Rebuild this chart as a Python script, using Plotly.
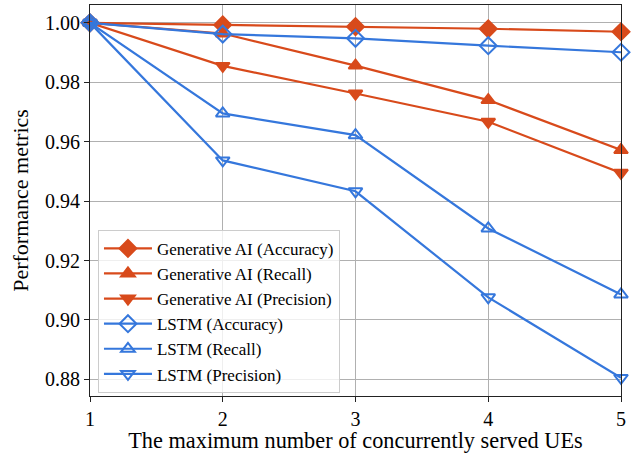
import plotly.graph_objects as go

x_vals = [1, 2, 3, 4, 5]
gen_accuracy = [1.0, 0.9993, 0.9987, 0.9980, 0.9970]
gen_recall = [1.0, 0.9964, 0.9856, 0.9740, 0.9572]
gen_precision = [1.0, 0.9855, 0.9762, 0.9667, 0.9495]
lstm_accuracy = [1.0, 0.9962, 0.9948, 0.9923, 0.9901]
lstm_recall = [1.0, 0.9695, 0.9622, 0.9308, 0.9086]
lstm_precision = [1.0, 0.9537, 0.9433, 0.9076, 0.8805]

x_ticks = [1, 2, 3, 4, 5]
y_ticks = [0.88, 0.90, 0.92, 0.94, 0.96, 0.98, 1.00]

ORANGE = "#D84A1B"
BLUE = "#3577DC"
FONT = "Liberation Serif"

series = [
    ("Generative AI (Accuracy)", gen_accuracy, ORANGE, "diamond", True),
    ("Generative AI (Recall)", gen_recall, ORANGE, "triangle-up", True),
    ("Generative AI (Precision)", gen_precision, ORANGE, "triangle-down", True),
    ("LSTM (Accuracy)", lstm_accuracy, BLUE, "diamond-open", False),
    ("LSTM (Recall)", lstm_recall, BLUE, "triangle-up-open", False),
    ("LSTM (Precision)", lstm_precision, BLUE, "triangle-down-open", False),
]

fig = go.Figure()
for name, vals, color, sym, filled in series:
    fig.add_trace(go.Scatter(
        x=x_vals, y=vals, name=name, mode="lines+markers",
        line=dict(color=color, width=2.2),
        marker=dict(symbol=sym, size=13 if "diamond" in sym else 12,
                    color=color, line=dict(color=color, width=2)),
        cliponaxis=False,
    ))

fig.update_layout(
    width=638, height=453,
    margin=dict(l=90, r=17, t=5, b=57),
    paper_bgcolor="white", plot_bgcolor="white",
    font=dict(family=FONT, size=20, color="black"),
    showlegend=True,
    legend=dict(
        x=0.015, y=0.425, xanchor="left", yanchor="top",
        bgcolor="rgba(255,255,255,0.8)", bordercolor="#cccccc", borderwidth=1,
        font=dict(family=FONT, size=17, color="black"),
        tracegroupgap=0, itemwidth=48,
    ),
    xaxis=dict(
        range=[1, 5], tickvals=x_ticks, ticktext=[str(v) for v in x_ticks],
        showgrid=True, gridcolor="#b0b0b0", gridwidth=1.3,
        showline=True, linecolor="#222222", linewidth=1.2, mirror=True,
        ticks="outside", ticklen=5, tickcolor="#222222",
        title=dict(text="The maximum number of concurrently served UEs",
                   font=dict(family=FONT, size=22.3), standoff=4),
        tickfont=dict(family=FONT, size=20),
        zeroline=False, automargin=False,
    ),
    yaxis=dict(
        range=[0.8744, 1.006], tickvals=y_ticks,
        ticktext=[f"{v:.2f}" for v in y_ticks],
        showgrid=True, gridcolor="#b0b0b0", gridwidth=1.3,
        showline=True, linecolor="#222222", linewidth=1.2, mirror=True,
        ticks="outside", ticklen=5, tickcolor="#222222",
        title=dict(text="Performance metrics",
                   font=dict(family=FONT, size=22), standoff=10),
        tickfont=dict(family=FONT, size=20),
        zeroline=False, automargin=False,
    ),
)

fig.write_html("out.html", config={"displayModeBar": False},
               post_script="document.body.style.margin='0';")
